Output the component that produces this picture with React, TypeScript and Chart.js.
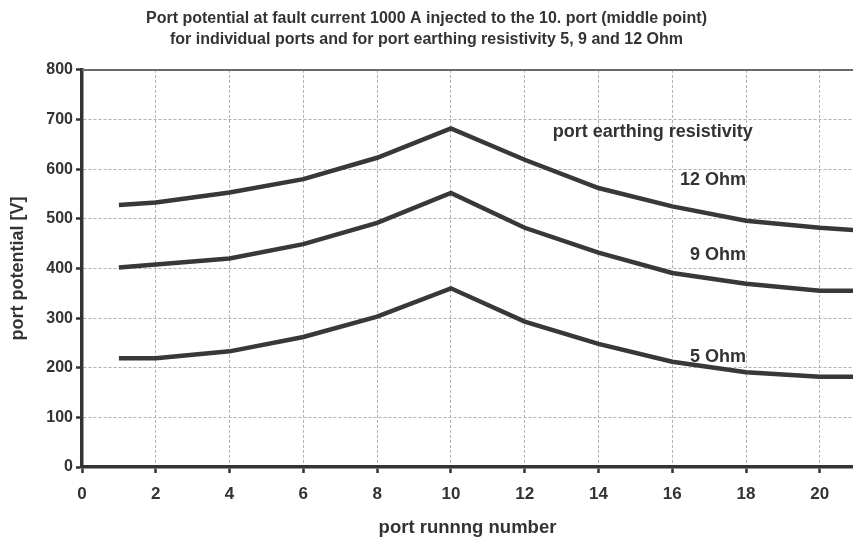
import React, { useEffect, useRef } from "react";
import { Chart, registerables } from "chart.js";

Chart.register(...registerables);

const ports = [1, 2, 4, 6, 8, 10, 12, 14, 16, 18, 20, 21];
const ohm12 = [528, 533, 553, 580, 623, 682, 619, 562, 525, 496, 482, 477];
const ohm9 = [402, 408, 420, 449, 492, 552, 482, 432, 391, 369, 355, 355];
const ohm5 = [219, 219, 233, 262, 303, 360, 293, 248, 212, 191, 182, 182];
const seriesNames = ["12 Ohm", "9 Ohm", "5 Ohm"];
const titleLines = [
  "Port potential at fault current 1000 A injected to the 10. port (middle point)",
  "for individual ports and for port earthing resistivity 5, 9 and 12 Ohm",
];
const xTitle = "port runnng number";
const yTitle = "port potential [V]";
const legendTitle = "port earthing resistivity";

// label anchor points in data units: [text, x, y, align]
const labelAnchors: [string, number, number, CanvasTextAlign][] = [
  [legendTitle, 12.76, 675, "left"],
  [seriesNames[0], 18.0, 579, "right"],
  [seriesNames[1], 18.0, 428, "right"],
  [seriesNames[2], 18.0, 222, "right"],
];

const FONT = "'Liberation Sans', Arial, sans-serif";
const INK = "#333333";

const decorPlugin = {
  id: "decor",
  beforeDatasetsDraw(chart: any) {
    const { ctx, chartArea } = chart;
    ctx.save();
    ctx.strokeStyle = "#6a6a6a";
    ctx.lineWidth = 2;
    ctx.beginPath();
    ctx.moveTo(chartArea.left, chartArea.top);
    ctx.lineTo(chartArea.right, chartArea.top);
    ctx.stroke();
    ctx.restore();
  },
  afterDatasetsDraw(chart: any) {
    const { ctx, scales } = chart;
    ctx.save();
    ctx.fillStyle = INK;
    ctx.font = `bold 18px ${FONT}`;
    ctx.textBaseline = "middle";
    for (const [text, x, y, align] of labelAnchors) {
      ctx.textAlign = align;
      ctx.fillText(text, scales.x.getPixelForValue(x), scales.y.getPixelForValue(y));
    }
    ctx.restore();
  },
};

export default function App() {
  const ref = useRef<HTMLCanvasElement | null>(null);
  useEffect(() => {
    if (!ref.current) return;
    const mk = (vals: number[], label: string) => ({
      label,
      data: ports.map((p, i) => ({ x: p, y: vals[i] })),
      borderColor: "#383838",
      borderWidth: 4.5,
      pointRadius: 0,
      tension: 0,
      fill: false,
    });
    const chart = new Chart(ref.current, {
      type: "line",
      data: {
        datasets: [mk(ohm12, seriesNames[0]), mk(ohm9, seriesNames[1]), mk(ohm5, seriesNames[2])],
      },
      plugins: [decorPlugin],
      options: {
        animation: false,
        responsive: true,
        maintainAspectRatio: false,
        layout: { padding: 0 },
        plugins: {
          legend: { display: false },
          tooltip: { enabled: false },
          title: {
            display: true,
            text: titleLines,
            color: INK,
            font: { family: FONT, size: 16, weight: "bold", lineHeight: 1.31 },
            padding: { top: 8.5, bottom: 19.5 },
          },
        },
        scales: {
          x: {
            type: "linear",
            min: 0,
            max: 20.9,
            afterFit: (s: any) => {
              s.height = 72;
            },
            ticks: {
              stepSize: 2,
              includeBounds: false,
              color: INK,
              font: { family: FONT, size: 17, weight: "bold" },
              padding: 11,
              maxRotation: 0,
            },
            grid: {
              color: "#b0b0b0",
              lineWidth: 1,
              tickColor: INK,
              tickLength: 6,
              tickWidth: 2.5,
            },
            border: { display: true, color: INK, width: 3.5, dash: [3, 2] },
            title: {
              display: true,
              text: xTitle,
              color: INK,
              font: { family: FONT, size: 18.5, weight: "bold" },
              padding: { top: 8, bottom: 0 },
            },
          },
          y: {
            min: 0,
            max: 800,
            afterFit: (s: any) => {
              s.width = 82;
            },
            ticks: {
              stepSize: 100,
              color: INK,
              font: { family: FONT, size: 16, weight: "bold" },
              padding: 3,
            },
            grid: {
              color: (c: any) => (c.tick && c.tick.value === 800 ? "rgba(0,0,0,0)" : "#b0b0b0"),
              lineWidth: 1,
              tickColor: INK,
              tickLength: 6,
              tickWidth: 2.5,
            },
            border: { display: true, color: INK, width: 3.5, dash: [3, 2] },
            title: {
              display: true,
              text: yTitle,
              color: INK,
              font: { family: FONT, size: 18, weight: "bold" },
              padding: { top: 7, bottom: 2 },
            },
          },
        },
      },
    } as any);
    return () => chart.destroy();
  }, []);
  return (
    <div style={{ position: "fixed", left: 0, top: 0, width: 853, height: 539, background: "#fff" }}>
      <canvas ref={ref} />
    </div>
  );
}
